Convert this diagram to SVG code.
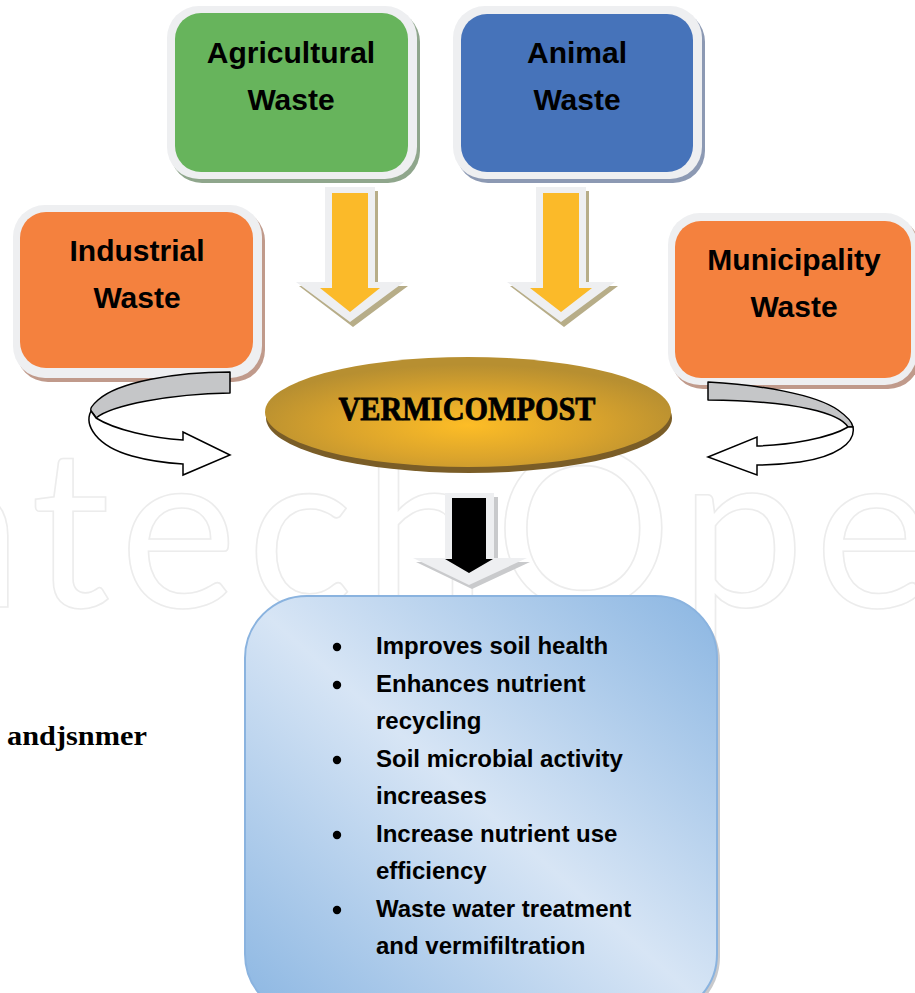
<svg xmlns="http://www.w3.org/2000/svg" width="915" height="993" viewBox="0 0 915 993">
  <defs>
    <radialGradient id="gold" cx="0.5" cy="0.62" r="0.55">
      <stop offset="0" stop-color="#fdbd26"/>
      <stop offset="0.55" stop-color="#dba42c"/>
      <stop offset="1" stop-color="#b78f31"/>
    </radialGradient>
    <linearGradient id="sky" x1="1" y1="0" x2="0" y2="1">
      <stop offset="0" stop-color="#8bb6e2"/>
      <stop offset="0.5" stop-color="#d7e5f5"/>
      <stop offset="1" stop-color="#8bb6e2"/>
    </linearGradient>
    <style>
      .title { font-family: "Liberation Sans", Arial, sans-serif; font-weight: bold; font-size: 30px; fill: #000; text-anchor: middle; }
      .rim { fill: #eeeff1; }
      .item { font-family: "Liberation Sans", Arial, sans-serif; font-weight: bold; font-size: 24px; fill: #000; }
      .ribbon-back { fill: #c5c6c8; stroke: #000; stroke-width: 1.5; stroke-linejoin: round; }
      .ribbon-front { fill: #fff; stroke: #000; stroke-width: 1.5; stroke-linejoin: miter; }
    </style>
  </defs>

  <rect width="915" height="993" fill="#fff"/>

  <!-- faint background mark -->
  <g id="backdrop-mark">
    <text x="-172" y="607" font-family="Lato, 'Open Sans', sans-serif" font-size="222" letter-spacing="10" fill="none" stroke="#ececec" stroke-width="1.6">IntechOpen</text>
  </g>

  <!-- source boxes -->
  <g id="agricultural">
    <rect x="170" y="10" width="250" height="173" rx="32" fill="#8fa68c"/>
    <rect class="rim" x="167" y="6" width="250" height="173" rx="32"/>
    <rect x="175" y="13" width="233" height="159" rx="26" fill="#67b45c"/>
    <text class="title" x="291" y="63">Agricultural</text>
    <text class="title" x="291" y="110">Waste</text>
  </g>

  <g id="animal">
    <rect x="456" y="10" width="249" height="173" rx="32" fill="#8c99b3"/>
    <rect class="rim" x="453" y="6" width="249" height="173" rx="32"/>
    <rect x="461" y="14" width="232" height="158" rx="26" fill="#4673ba"/>
    <text class="title" x="577" y="63">Animal</text>
    <text class="title" x="577" y="110">Waste</text>
  </g>

  <g id="industrial">
    <rect x="16" y="209" width="249" height="173" rx="32" fill="#c09a8b"/>
    <rect class="rim" x="13" y="205" width="249" height="173" rx="32"/>
    <rect x="20" y="212" width="233" height="156" rx="26" fill="#f4813e"/>
    <text class="title" x="137" y="261">Industrial</text>
    <text class="title" x="137" y="308">Waste</text>
  </g>

  <g id="municipality">
    <rect x="671" y="217" width="249" height="172" rx="32" fill="#c09a8b"/>
    <rect class="rim" x="668" y="213" width="249" height="172" rx="32"/>
    <rect x="675" y="221" width="236" height="157" rx="26" fill="#f4813e"/>
    <text class="title" x="794" y="270">Municipality</text>
    <text class="title" x="794" y="317">Waste</text>
  </g>

  <!-- central product -->
  <g id="vermicompost">
    <ellipse cx="469" cy="418" rx="203" ry="55" fill="#7a5d27"/>
    <ellipse cx="468" cy="412" rx="203" ry="55" fill="url(#gold)"/>
    <text x="467" y="420" font-family="'Liberation Serif', 'Times New Roman', serif" font-weight="bold" font-size="34" textLength="257" lengthAdjust="spacingAndGlyphs" text-anchor="middle" fill="#000" stroke="#000" stroke-width="0.8">VERMICOMPOST</text>
  </g>

  <!-- benefits -->
  <g id="benefits">
    <rect x="248" y="599" width="472" height="420" rx="62" fill="#c8c9cc"/>
    <rect x="245" y="596" width="472" height="420" rx="62" fill="url(#sky)" stroke="#8ab3df" stroke-width="2"/>
    <g fill="#000">
      <circle cx="337" cy="647" r="4.2"/>
      <circle cx="337" cy="685" r="4.2"/>
      <circle cx="337" cy="760" r="4.2"/>
      <circle cx="337" cy="835" r="4.2"/>
      <circle cx="337" cy="910" r="4.2"/>
    </g>
    <text class="item" x="376" y="654">Improves soil health</text>
    <text class="item" x="376" y="692">Enhances nutrient</text>
    <text class="item" x="376" y="729">recycling</text>
    <text class="item" x="376" y="767">Soil microbial activity</text>
    <text class="item" x="376" y="804">increases</text>
    <text class="item" x="376" y="842">Increase nutrient use</text>
    <text class="item" x="376" y="879">efficiency</text>
    <text class="item" x="376" y="917">Waste water treatment</text>
    <text class="item" x="376" y="954">and vermifiltration</text>
  </g>

  <g id="side-label">
    <text x="7" y="745" font-family="'Liberation Serif', 'Times New Roman', serif" font-weight="bold" font-size="28" textLength="140" lengthAdjust="spacingAndGlyphs" fill="#000">andjsnmer</text>
  </g>

  <!-- connectors -->
  <g id="connectors">
    <!-- block arrow: agricultural -> vermicompost -->
    <g>
      <polygon points="328,191 378,191 378,286 408,286 353,327 299,286 328,286" fill="#b7ad88"/>
      <polygon points="325,187 375,187 375,282 404,282 350,322 296,282 325,282" fill="#eeeff1"/>
      <polygon points="332,193 368,193 368,288 380,288 350,312 320,288 332,288" fill="#fbba29"/>
    </g>
    <!-- block arrow: animal -> vermicompost -->
    <g>
      <polygon points="539,191 589,191 589,286 618,286 564,327 510,286 539,286" fill="#b7ad88"/>
      <polygon points="536,187 586,187 586,282 615,282 561,322 507,282 536,282" fill="#eeeff1"/>
      <polygon points="543,193 579,193 579,288 592,288 561,312 530,288 543,288" fill="#fbba29"/>
    </g>
    <!-- block arrow: vermicompost -> benefits -->
    <g>
      <polygon points="448,497 498,497 498,562 530,562 472,589 416,562 448,562" fill="#c9cacc"/>
      <polygon points="445,493 494,493 494,558 527,558 469,585 413,558 445,558" fill="#eeeff1"/>
      <polygon points="452,498 486,498 486,559 493,559 469,573 445,559 452,559" fill="#000"/>
    </g>
    <!-- curved arrow: industrial -> vermicompost -->
    <g>
      <path class="ribbon-back" d="M230,372 C175,372 118,382 98,400 Q89,408 91,411 C97,418 96,418 96,418 C112,405 170,394 230,393 Z"/>
      <path class="ribbon-front" d="M91,411 C84,425 96,446 132,456 C150,461 166,463 183,464 L183,475 L230,455 L183,432 L183,440 C152,438 115,430 96,418 Z"/>
    </g>
    <!-- curved arrow: municipality -> vermicompost -->
    <g>
      <path class="ribbon-back" d="M708,382 C760,385 815,394 838,410 Q852,420 853,427 L848,427 C840,414 800,401 708,400 Z"/>
      <path class="ribbon-front" d="M853,427 C856,443 835,457 800,462 C785,464 770,465 757,465 L757,475 L708,457 L757,437 L757,446 C790,445 830,438 848,427 Z"/>
    </g>
  </g>
</svg>
